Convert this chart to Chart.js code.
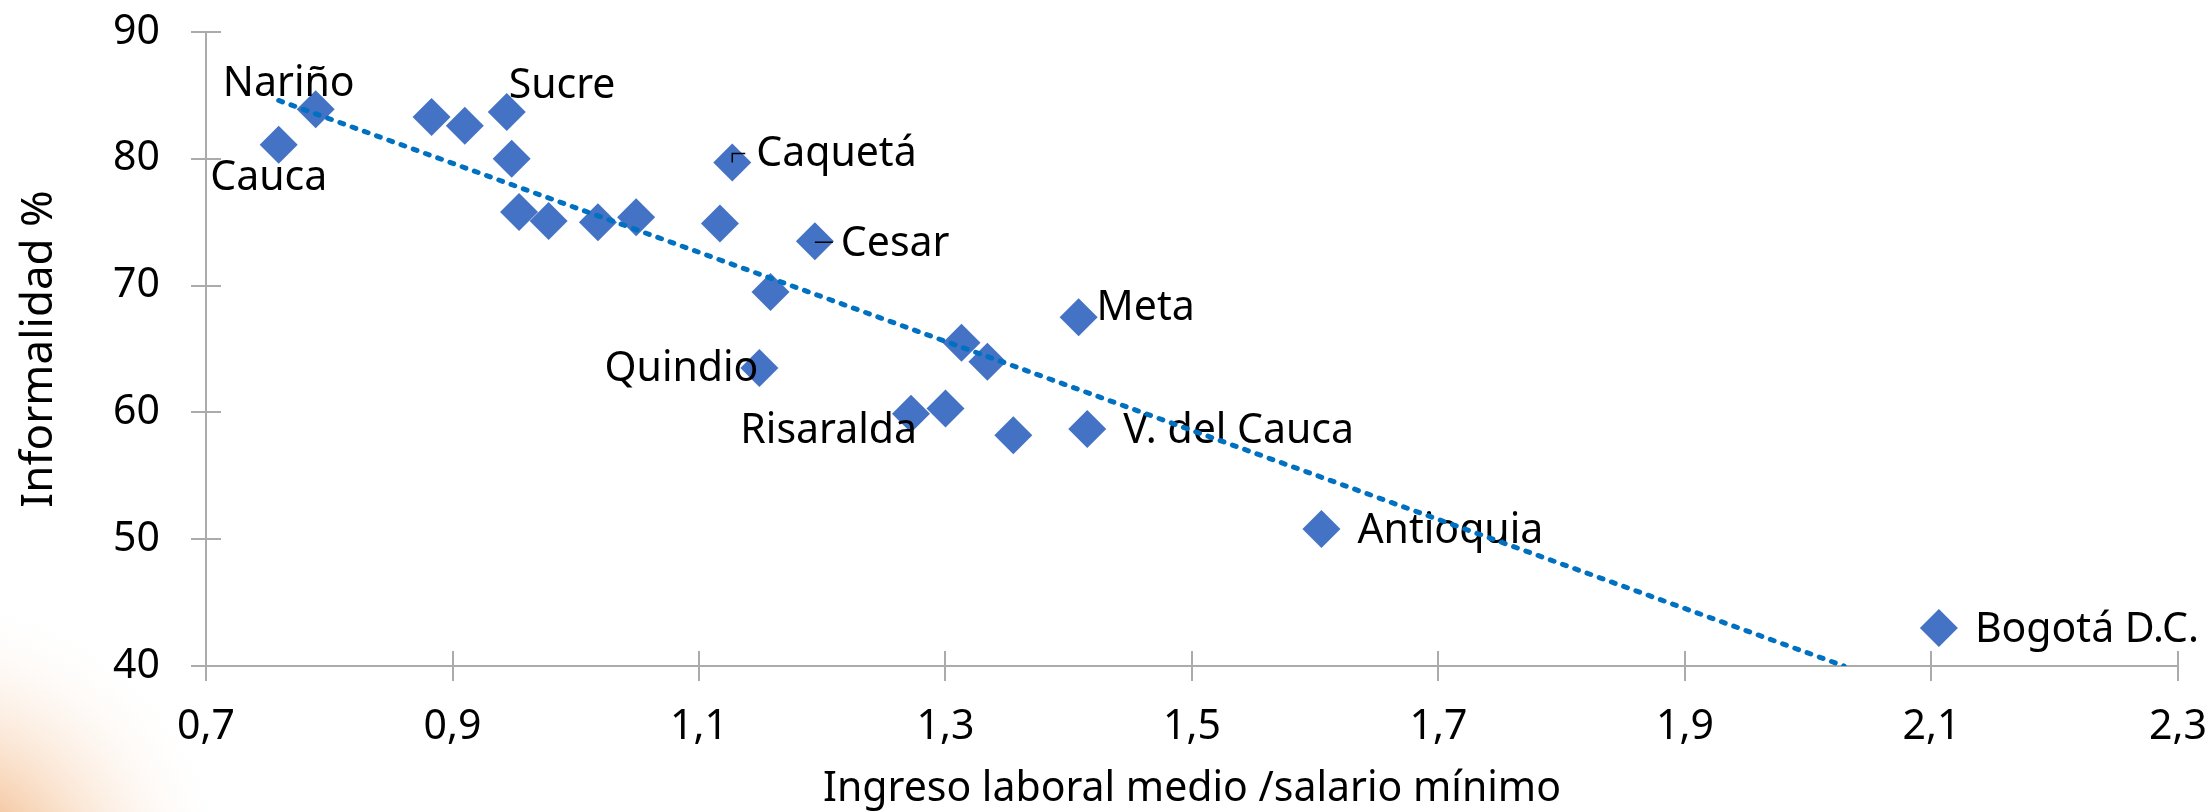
<!DOCTYPE html>
<html>
<head>
<meta charset="utf-8">
<script src="https://cdn.jsdelivr.net/npm/chart.js@4.4.1/dist/chart.umd.min.js"></script>
<style>
  html, body { margin: 0; padding: 0; background: #fff; }
  canvas { display: block; }
</style>
</head>
<body>
<canvas id="chart" width="2211" height="812"></canvas>
<script>
// ingreso laboral medio / salario minimo (x) vs informalidad % (y), by departamento
const ingresoRelativo = [0.759, 0.789, 0.883, 0.910, 0.944, 0.948, 0.954, 0.978, 1.018, 1.049, 1.117, 1.127,
  1.149, 1.158, 1.194, 1.272, 1.300, 1.313, 1.334, 1.355, 1.408, 1.415, 1.605, 2.106];
const informalidad = [81.1, 83.9, 83.3, 82.6, 83.7, 80.0, 75.8, 75.1, 75.0, 75.4, 74.9, 79.7,
  63.5, 69.5, 73.5, 59.9, 60.3, 65.5, 64.0, 58.2, 67.5, 58.7, 50.8, 43.0];
const departamentos = ['Cauca', 'Nariño', '', '', 'Sucre', '', '', '', '', '', '', 'Caquetá',
  'Quindio', '', 'Cesar', 'Risaralda', '', '', '', '', 'Meta', 'V. del Cauca', 'Antioquia', 'Bogotá D.C.'];

// linear trend line, ends
const tendenciaX = [0.759, 2.029];
const tendenciaY = [84.6, 40];

// axis ticks
const xTicks = [0.7, 0.9, 1.1, 1.3, 1.5, 1.7, 1.9, 2.1, 2.3];
const yTicks = [40, 50, 60, 70, 80, 90];

const FONT = "'Noto Sans', 'Open Sans', sans-serif";
const AXIS_GREY = '#ababab';

// where each data label sits relative to its marker
const labelPlacement = {
  'Nariño': { dx: -27, dy: -25, align: 'center' },
  'Cauca': { dx: -10, dy: 33, align: 'center' },
  'Sucre': { dx: 2, dy: -26, align: 'left' },
  'Caquetá': { dx: 24, dy: -8, align: 'left', leader: [[0, 0], [0, -9], [13, -9]] },
  'Cesar': { dx: 26, dy: 3, align: 'left', leader: [[0, 1], [18, 1]] },
  'Quindio': { dx: -1, dy: 1, align: 'right' },
  'Meta': { dx: 18, dy: -9, align: 'left' },
  'Risaralda': { dx: 6, dy: 18, align: 'right' },
  'V. del Cauca': { dx: 36, dy: 2, align: 'left' },
  'Antioquia': { dx: 36, dy: 2, align: 'left' },
  'Bogotá D.C.': { dx: 36, dy: 2, align: 'left' }
};

const puntos = ingresoRelativo.map((x, i) => ({ x: x, y: informalidad[i] }));
const tendencia = tendenciaX.map((x, i) => ({ x: x, y: tendenciaY[i] }));

// white slide with the orange glow in the lower left corner
const background = {
  id: 'background',
  beforeDraw(chart) {
    const ctx = chart.ctx;
    ctx.save();
    ctx.fillStyle = '#fff';
    ctx.fillRect(0, 0, chart.width, chart.height);
    const g = ctx.createRadialGradient(-70, 900, 0, -70, 900, 310);
    g.addColorStop(0, 'rgba(226, 118, 40, 0.95)');
    g.addColorStop(0.45, 'rgba(240, 170, 110, 0.45)');
    g.addColorStop(1, 'rgba(255, 255, 255, 0)');
    ctx.fillStyle = g;
    ctx.fillRect(0, 0, chart.width, chart.height);
    ctx.restore();
  }
};

// tick marks cross the axis: draw the inner half
const crossTicks = {
  id: 'crossTicks',
  beforeDatasetsDraw(chart) {
    const { ctx, scales: { x, y }, chartArea } = chart;
    ctx.save();
    ctx.strokeStyle = AXIS_GREY;
    ctx.lineWidth = 2;
    ctx.beginPath();
    x.ticks.forEach((t, i) => {
      const px = Math.round(x.getPixelForTick(i));
      ctx.moveTo(px, chartArea.bottom);
      ctx.lineTo(px, chartArea.bottom - 15);
    });
    y.ticks.forEach((t, i) => {
      const py = Math.round(y.getPixelForTick(i));
      ctx.moveTo(chartArea.left, py);
      ctx.lineTo(chartArea.left + 15, py);
    });
    ctx.stroke();
    ctx.restore();
  }
};

// department names, drawn right after the markers so the trend line stays on top
const pointLabels = {
  id: 'pointLabels',
  afterDatasetDraw(chart, args) {
    if (args.index !== 0) return;
    const ctx = chart.ctx;
    ctx.save();
    ctx.font = '41px ' + FONT;
    ctx.fillStyle = '#000';
    ctx.strokeStyle = '#000';
    ctx.lineWidth = 1.5;
    ctx.textBaseline = 'middle';
    args.meta.data.forEach((el, i) => {
      const name = departamentos[i];
      const p = labelPlacement[name];
      if (!name || !p) return;
      if (p.leader) {
        ctx.beginPath();
        p.leader.forEach(([lx, ly], k) => {
          if (k === 0) ctx.moveTo(el.x + lx, el.y + ly);
          else ctx.lineTo(el.x + lx, el.y + ly);
        });
        ctx.stroke();
      }
      ctx.textAlign = p.align;
      ctx.fillText(name, el.x + p.dx, el.y + p.dy);
    });
    ctx.restore();
  }
};

new Chart(document.getElementById('chart'), {
  type: 'scatter',
  data: {
    datasets: [
      {
        label: 'Departamentos',
        data: puntos,
        pointStyle: 'rectRot',
        pointRadius: 19,
        pointHoverRadius: 19,
        backgroundColor: '#4472C4',
        borderWidth: 0,
        order: 1
      },
      {
        label: 'Lineal',
        data: tendencia,
        showLine: true,
        pointRadius: 0,
        borderColor: '#0070C0',
        borderWidth: 5,
        borderDash: [4, 9],
        borderCapStyle: 'round',
        order: 0
      }
    ]
  },
  options: {
    responsive: false,
    animation: false,
    devicePixelRatio: 1,
    layout: { padding: { left: 0, top: 32, right: 33, bottom: 0 } },
    plugins: {
      legend: { display: false },
      tooltip: { enabled: false }
    },
    scales: {
      x: {
        type: 'linear',
        min: xTicks[0],
        max: xTicks[xTicks.length - 1],
        afterFit(scale) {
          scale.height = 146;
          scale.paddingLeft = 0;
          scale.paddingRight = 0;
        },
        ticks: {
          stepSize: xTicks[1] - xTicks[0],
          padding: 22,
          color: '#000',
          font: { family: FONT, size: 41, lineHeight: 1.2 },
          callback: (v) => v.toFixed(1).replace('.', ',')
        },
        grid: { drawOnChartArea: false, tickLength: 15, color: AXIS_GREY, lineWidth: 2 },
        border: { color: AXIS_GREY, width: 2 },
        title: {
          display: true,
          text: 'Ingreso laboral medio /salario mínimo',
          color: '#000',
          font: { family: FONT, size: 41, lineHeight: 1.0 },
          padding: { top: 0, bottom: 2 }
        }
      },
      y: {
        type: 'linear',
        min: yTicks[0],
        max: yTicks[yTicks.length - 1],
        afterFit(scale) {
          scale.width = 206;
          scale.paddingTop = 0;
          scale.paddingBottom = 0;
        },
        ticks: {
          stepSize: yTicks[1] - yTicks[0],
          padding: 31,
          color: '#000',
          font: { family: FONT, size: 41, lineHeight: 1.2 }
        },
        grid: { drawOnChartArea: false, tickLength: 15, color: AXIS_GREY, lineWidth: 2 },
        border: { color: AXIS_GREY, width: 2 },
        title: {
          display: true,
          text: 'Informalidad %',
          color: '#000',
          font: { family: FONT, size: 44, lineHeight: 1.2 },
          padding: { top: 13, bottom: 0 }
        }
      }
    }
  },
  plugins: [background, crossTicks, pointLabels]
});
</script>
</body>
</html>
